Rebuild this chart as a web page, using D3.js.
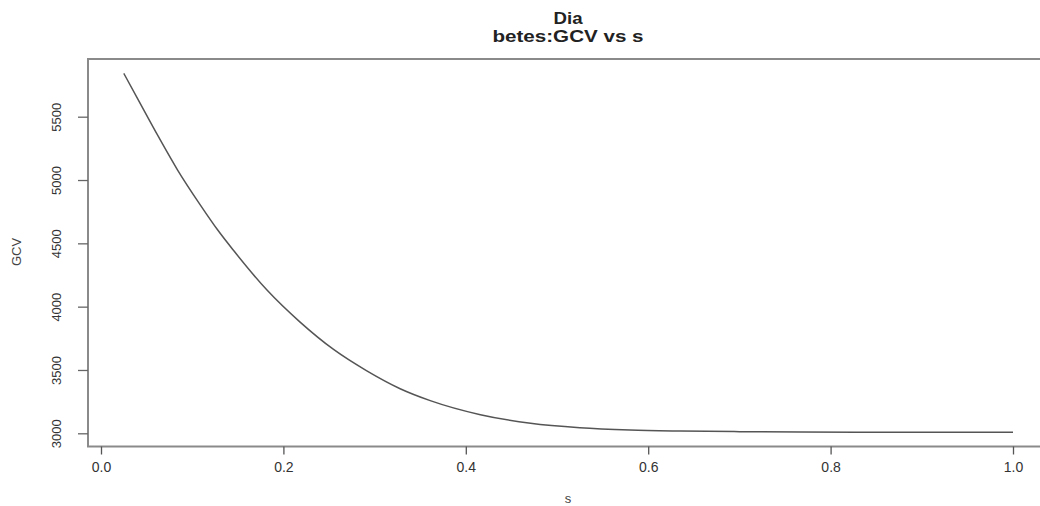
<!DOCTYPE html>
<html>
<head>
<meta charset="utf-8">
<script src="https://cdn.jsdelivr.net/npm/d3@7"></script>
<style>
  body { margin: 0; background: #fff; }
  text { font-family: "Liberation Sans", Arial, sans-serif; }
</style>
</head>
<body>
<script>
// values
var s_values = [0.025, 0.041, 0.063, 0.084, 0.109, 0.128, 0.145, 0.182, 0.218, 0.255, 0.291,
                0.328, 0.361, 0.416, 0.471, 0.525, 0.580, 0.635, 0.70, 0.767, 0.85, 1.0];
var gcv_values = [5842, 5631, 5342, 5079, 4802, 4605, 4447, 4131, 3880, 3662, 3495,
                  3352, 3258, 3147, 3079, 3044, 3026, 3018, 3013, 3010, 3009, 3008];
var x_ticks = [0, 0.2, 0.4, 0.6, 0.8, 1.0];
var y_ticks = [3000, 3500, 4000, 4500, 5000, 5500];
var title_lines = ["Dia", "betes:GCV vs s"];

var svg_Width = 1040;
var svg_Height = 506;

// plot box (right edge runs past the window like the reference)
var box = { left: 88, top: 59, right: 1043, bottom: 446.5 };

var svg = d3.select("body")
  .append("svg")
  .attr("width", svg_Width)
  .attr("height", svg_Height);

var x_scale = d3.scaleLinear().domain([0, 1]).range([101, 1013]);
var y_scale = d3.scaleLinear().domain([3000, 5500]).range([433.3, 116.7]);

// box
svg.append("rect")
  .attr("x", box.left)
  .attr("y", box.top)
  .attr("width", box.right - box.left)
  .attr("height", box.bottom - box.top)
  .attr("fill", "none")
  .attr("stroke", "#8a8a8a")
  .attr("stroke-width", 2);

// bottom axis
var bottom_Axis = d3.axisBottom(x_scale)
  .tickValues(x_ticks)
  .tickSize(8)
  .tickPadding(8)
  .tickFormat(d3.format(".1f"));

var xg = svg.append("g")
  .attr("transform", `translate(0, ${box.bottom})`)
  .call(bottom_Axis);
xg.select(".domain").remove();
xg.selectAll(".tick line").attr("stroke", "#555").attr("stroke-width", 1.3);
xg.selectAll(".tick text")
  .attr("fill", "#333")
  .style("font-size", "14px")
  .style("font-family", "'Liberation Sans', Arial, sans-serif");

// left axis
var left_Axis = d3.axisLeft(y_scale)
  .tickValues(y_ticks)
  .tickSize(10)
  .tickFormat(d3.format("d"));

var yg = svg.append("g")
  .attr("transform", `translate(${box.left}, 0)`)
  .call(left_Axis);
yg.select(".domain").remove();
yg.selectAll(".tick line").attr("stroke", "#666").attr("stroke-width", 1.3);
yg.selectAll(".tick text")
  .attr("fill", "#333")
  .attr("x", 0)
  .attr("dy", 0)
  .attr("text-anchor", "middle")
  .attr("transform", "translate(-30, 0) rotate(-90)")
  .attr("dominant-baseline", "middle")
  .style("font-size", "13px")
  .style("font-family", "'Liberation Sans', Arial, sans-serif");

// the curve
var pts = s_values.map(function(s, i) { return [s, gcv_values[i]]; });
var line = d3.line()
  .x(d => x_scale(d[0]))
  .y(d => y_scale(d[1]))
  .curve(d3.curveMonotoneX);

svg.append("path")
  .datum(pts)
  .attr("d", line)
  .attr("fill", "none")
  .attr("stroke", "#555")
  .attr("stroke-width", 1.5);

// title
svg.append("text")
  .attr("x", 568).attr("y", 24)
  .attr("text-anchor", "middle")
  .attr("textLength", 29)
  .attr("lengthAdjust", "spacingAndGlyphs")
  .style("font-size", "16px").style("font-weight", "bold").attr("fill", "#222")
  .text(title_lines[0]);

svg.append("text")
  .attr("x", 568).attr("y", 42)
  .attr("text-anchor", "middle")
  .attr("textLength", 151)
  .attr("lengthAdjust", "spacingAndGlyphs")
  .style("font-size", "16px").style("font-weight", "bold").attr("fill", "#222")
  .text(title_lines[1]);

// axis titles
svg.append("text")
  .attr("x", 568).attr("y", 503)
  .attr("text-anchor", "middle")
  .style("font-size", "13px").attr("fill", "#444")
  .text("s");

svg.append("text")
  .attr("transform", "translate(21, 252) rotate(-90)")
  .attr("text-anchor", "middle")
  .style("font-size", "13px").attr("fill", "#444")
  .text("GCV");
</script>
</body>
</html>
